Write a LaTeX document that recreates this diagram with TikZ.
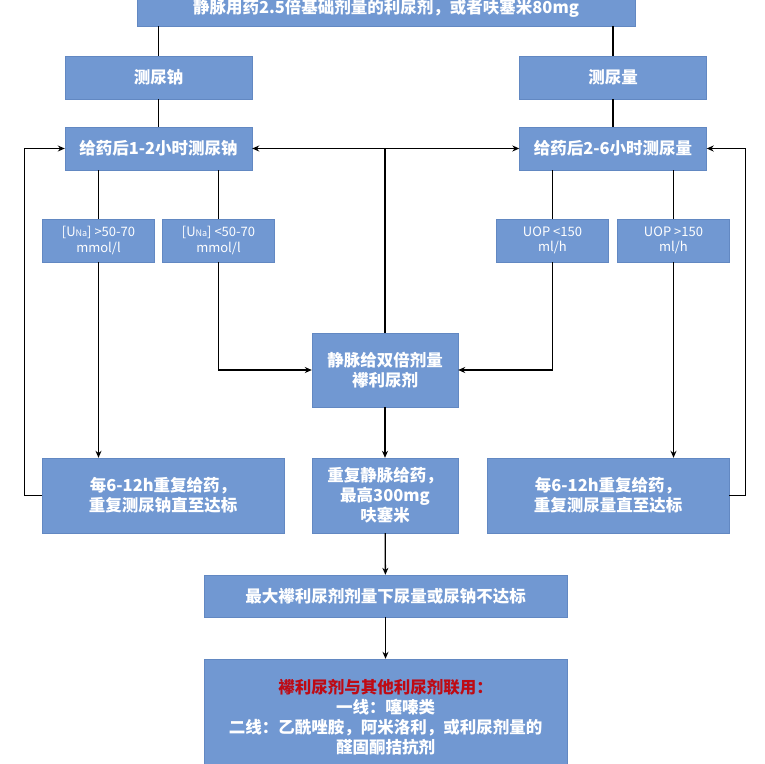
\documentclass[tikz,border=0pt]{standalone}
\usepackage{fontspec}
\setmainfont{Noto Sans CJK SC}
\usetikzlibrary{arrows.meta}
\definecolor{boxblue}{RGB}{113,152,210}
\definecolor{boxedge}{RGB}{98,136,194}
\definecolor{alertred}{RGB}{190,10,20}
\tikzset{
  flowbox/.style = {rectangle, fill = boxblue, draw = boxedge, text = white, inner sep = 0pt, align = center, font = \fontsize{16.5}{20}\selectfont\bfseries},
  smallbox/.style = {flowbox, font = \fontsize{13}{15.5}\selectfont},
  link/.style = {line width = 1.3pt},
  arrow/.style = {link, -{Stealth[length = 7pt, width = 6pt]}}
}
\begin{document}
\begin{tikzpicture}[x = 1pt, y = -1pt]
	\useasboundingbox (0, 0) rectangle (765, 763);
	% Nodes
	\node[flowbox, minimum width = 498pt, minimum height = 36pt] (start) at (386, 8) {静脉用药2.5倍基础剂量的利尿剂，或者呋塞米80mg};
	\node[flowbox, minimum width = 187pt, minimum height = 43pt] (measNa) at (158.5, 77.5) {测尿钠};
	\node[flowbox, minimum width = 187pt, minimum height = 43pt] (measVol) at (613, 77.5) {测尿量};
	\node[flowbox, minimum width = 187pt, minimum height = 43pt] (checkNa) at (158.5, 148.5) {给药后1-2小时测尿钠};
	\node[flowbox, minimum width = 187pt, minimum height = 43pt] (checkVol) at (613, 148.5) {给药后2-6小时测尿量};
	\node[smallbox, minimum width = 112pt, minimum height = 43pt] (naHigh) at (98.5, 240.5) {[U{\fontsize{9}{9}\selectfont Na}] >50-70\\mmol/l};
	\node[smallbox, minimum width = 112pt, minimum height = 43pt] (naLow) at (218.5, 240.5) {[U{\fontsize{9}{9}\selectfont Na}] <50-70\\mmol/l};
	\node[smallbox, minimum width = 112pt, minimum height = 43pt] (volLow) at (552.5, 240.5) {UOP <150\\ml/h};
	\node[smallbox, minimum width = 112pt, minimum height = 43pt] (volHigh) at (673.5, 240.5) {UOP >150\\ml/h};
	\node[flowbox, minimum width = 146pt, minimum height = 74pt] (double) at (385, 370) {静脉给双倍剂量\\襻利尿剂};
	\node[flowbox, minimum width = 242pt, minimum height = 75pt] (repNa) at (163, 495.5) {每6-12h重复给药，\\重复测尿钠直至达标};
	\node[flowbox, minimum width = 146pt, minimum height = 75pt] (repIV) at (385, 495.5) {重复静脉给药，\\最高300mg\\呋塞米};
	\node[flowbox, minimum width = 242pt, minimum height = 75pt] (repVol) at (608, 495.5) {每6-12h重复给药，\\重复测尿量直至达标};
	\node[flowbox, minimum width = 363pt, minimum height = 42pt] (maxDose) at (385.5, 596) {最大襻利尿剂剂量下尿量或尿钠不达标};
	\node[flowbox, minimum width = 363pt, minimum height = 116pt] (combo) at (385.5, 717) {{\color{alertred}襻利尿剂与其他利尿剂联用：}\\一线：噻嗪类\\二线：乙酰唑胺，阿米洛利，或利尿剂量的\\醛固酮拮抗剂};
	\coordinate (hub) at (double.north |- checkNa.east);

	% Edges
	\draw[link] (measNa.north |- start.south) -- (measNa.north);
	\draw[link] (measVol.north |- start.south) -- (measVol.north);
	\draw[link] (measNa) -- (checkNa);
	\draw[link] (measVol) -- (checkVol);
	\draw[link] (double.north) -- (hub);
	\draw[arrow] (hub) -- (checkNa.east);
	\draw[arrow] (hub) -- (checkVol.west);
	\draw[link] (naHigh.north |- checkNa.south) -- (naHigh.north);
	\draw[link] (naLow.north |- checkNa.south) -- (naLow.north);
	\draw[link] (volLow.north |- checkVol.south) -- (volLow.north);
	\draw[link] (volHigh.north |- checkVol.south) -- (volHigh.north);
	\draw[arrow] (naHigh.south) -- (naHigh.south |- repNa.north);
	\draw[arrow] (naLow.south) |- (double.west);
	\draw[arrow] (volLow.south) |- (double.east);
	\draw[arrow] (volHigh.south) -- (volHigh.south |- repVol.north);
	\draw[arrow] (repNa.west) -- ++(-17, 0) |- (checkNa.west);
	\draw[arrow] (repVol.east) -- ++(16, 0) |- (checkVol.east);
	\draw[arrow] (double) -- (repIV);
	\draw[arrow] (repIV) -- (maxDose);
	\draw[arrow] (maxDose) -- (combo);
\end{tikzpicture}
\end{document}
